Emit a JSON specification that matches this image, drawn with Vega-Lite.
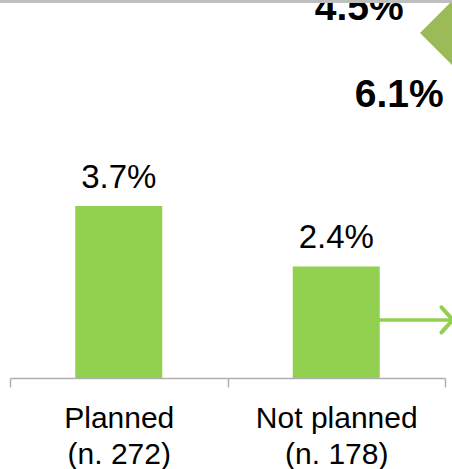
{
  "$schema": "https://vega.github.io/schema/vega-lite/v6.json",
  "autosize": "none",
  "padding": {"left": 10, "top": 0, "right": 7, "bottom": 91},
  "width": 435,
  "height": 378,
  "background": "white",
  "config": {"view": {"stroke": null}, "font": "Liberation Sans"},
  "datasets": {
    "bars": [
      {"group": "Planned\n(n. 272)", "value": 0.037},
      {"group": "Not planned\n(n. 178)", "value": 0.024}
    ],
    "notes": [
      {"label": "4.5%", "xq": 0.905, "y": 0.0770},
      {"label": "6.1%", "xq": 0.997, "y": 0.0583}
    ],
    "diamond": [{"xq": 1.046, "y": 0.0742}],
    "arrow": [{"xq": 0.848, "xq2": 1.015, "y": 0.0125}],
    "arrowhead": [
      {"xq": 0.992, "y": 0.0152, "o": 1},
      {"xq": 1.018, "y": 0.0125, "o": 2},
      {"xq": 0.992, "y": 0.0098, "o": 3}
    ],
    "topline": [{"xq": -0.03, "xq2": 1.03, "y": 0.0810}]
  },
  "layer": [
    {
      "data": {"name": "bars"},
      "layer": [
        {
          "mark": {"type": "bar", "color": "#92D050", "width": {"band": 0.4}},
          "encoding": {
            "x": {
              "field": "group", "type": "nominal", "sort": null,
              "scale": {"paddingInner": 0, "paddingOuter": 0},
              "axis": {
                "title": null, "labelAngle": 0, "tickBand": "extent",
                "tickSize": 9, "labelPadding": 16, "labelFontSize": 30,
                "labelFont": "Liberation Sans", "labelColor": "black",
                "labelLineHeight": 36, "domainColor": "#B0B0B0", "tickColor": "#B0B0B0",
                "domainWidth": 1.5, "tickWidth": 1.5,
                "labelExpr": "datum.value ? split(datum.value, '\\n') : ''"
              }
            },
            "y": {"field": "value", "type": "quantitative", "scale": {"domain": [0, 0.0813], "nice": false}, "axis": null}
          }
        },
        {
          "mark": {"type": "text", "fontSize": 33, "font": "Liberation Sans", "color": "black", "baseline": "alphabetic", "dy": -18},
          "encoding": {
            "x": {"field": "group", "type": "nominal", "sort": null},
            "y": {"field": "value", "type": "quantitative", "scale": {"domain": [0, 0.0813], "nice": false}, "axis": null},
            "text": {"field": "value", "type": "quantitative", "format": ".1%"}
          }
        }
      ]
    },
    {
      "layer": [
        {
          "data": {"name": "diamond"},
          "mark": {"type": "point", "shape": "diamond", "filled": true, "color": "#9BBB59", "size": 8100, "opacity": 1},
          "encoding": {
            "x": {"field": "xq", "type": "quantitative", "scale": {"domain": [0, 1], "nice": false, "zero": false}, "axis": null},
            "y": {"field": "y", "type": "quantitative", "scale": {"domain": [0, 0.0813], "nice": false}, "axis": null}
          }
        },
        {
          "data": {"name": "notes"},
          "mark": {"type": "text", "fontSize": 39, "fontWeight": "bold", "font": "Liberation Sans", "color": "black", "align": "right", "baseline": "alphabetic"},
          "encoding": {
            "x": {"field": "xq", "type": "quantitative", "scale": {"domain": [0, 1], "nice": false, "zero": false}, "axis": null},
            "y": {"field": "y", "type": "quantitative", "scale": {"domain": [0, 0.0813], "nice": false}, "axis": null},
            "text": {"field": "label"}
          }
        },
        {
          "data": {"name": "arrow"},
          "mark": {"type": "rule", "color": "#92D050", "strokeWidth": 3.5},
          "encoding": {
            "x": {"field": "xq", "type": "quantitative", "scale": {"domain": [0, 1], "nice": false, "zero": false}, "axis": null},
            "x2": {"field": "xq2"},
            "y": {"field": "y", "type": "quantitative", "scale": {"domain": [0, 0.0813], "nice": false}, "axis": null}
          }
        },
        {
          "data": {"name": "arrowhead"},
          "mark": {"type": "line", "color": "#92D050", "strokeWidth": 4, "strokeCap": "round", "strokeJoin": "round"},
          "encoding": {
            "x": {"field": "xq", "type": "quantitative", "scale": {"domain": [0, 1], "nice": false, "zero": false}, "axis": null},
            "y": {"field": "y", "type": "quantitative", "scale": {"domain": [0, 0.0813], "nice": false}, "axis": null},
            "order": {"field": "o"}
          }
        },
        {
          "data": {"name": "topline"},
          "mark": {"type": "rule", "color": "#BFBFBF", "strokeWidth": 3},
          "encoding": {
            "x": {"field": "xq", "type": "quantitative", "scale": {"domain": [0, 1], "nice": false, "zero": false}, "axis": null},
            "x2": {"field": "xq2"},
            "y": {"field": "y", "type": "quantitative", "scale": {"domain": [0, 0.0813], "nice": false}, "axis": null}
          }
        }
      ]
    }
  ],
  "resolve": {"scale": {"x": "independent"}, "axis": {"x": "independent"}}
}
